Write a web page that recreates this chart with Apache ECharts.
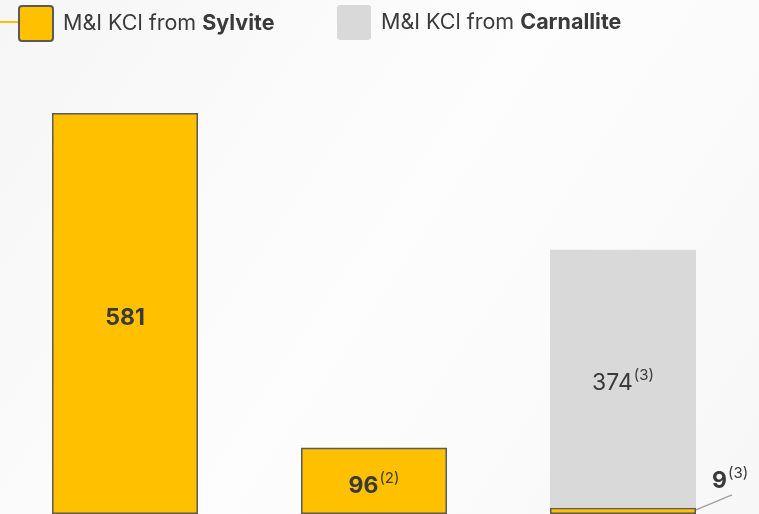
<!DOCTYPE html>
<html>
<head>
<meta charset="utf-8">
<script src="https://cdn.jsdelivr.net/npm/echarts@6/dist/echarts.min.js"></script>
<style>
  html, body { margin: 0; padding: 0; background: #fafafa; }
  #chart { width: 759px; height: 514px; }
</style>
</head>
<body>
<div id="chart"></div>
<script>
var categories = ['A', 'B', 'C'];
var sylvite = [581, 96, 9];
var carnallite = [null, null, 374];
var footnotes = ['', '(2)', '(3)'];
var carnNotes = ['', '', '(3)'];

var yellow = '#FFC000';
var grey = '#D9D9D9';
var ink = '#3a3a3a';
var font = 'Inter, "Open Sans", sans-serif';
var barW = 146;

var rich = {
  b: { fontSize: 23, fontWeight: 'bold', color: ink, fontFamily: font },
  n: { fontSize: 23, color: ink, fontFamily: font },
  s: { fontSize: 15, color: ink, fontFamily: font, verticalAlign: 'bottom', padding: [0, 0, 14, 1] }
};
var legendRich = {
  n: { fontSize: 21.5, color: ink, fontFamily: font, padding: [0, 0, 0, 5] },
  b: { fontSize: 21.5, fontWeight: 'bold', color: ink, fontFamily: font }
};

var chart = echarts.init(document.getElementById('chart'));
chart.setOption({
  animation: false,
  backgroundColor: {
    type: 'linear', x: 0, y: 0, x2: 1, y2: 1,
    colorStops: [{ offset: 0, color: '#f6f6f6' }, { offset: 0.5, color: '#fdfdfd' }, { offset: 1, color: '#f7f7f7' }]
  },
  legend: [{
    data: ['Sylvite'], left: 18, top: 5, padding: 0, itemWidth: 34, itemHeight: 35,
    icon: 'path://M3,0 H31 Q34,0 34,3 V32 Q34,35 31,35 H3 Q0,35 0,32 V3 Q0,0 3,0 Z',
    formatter: function() { return '{n|M&I KCl from }{b|Sylvite}'; },
    textStyle: { rich: legendRich }
  }, {
    data: ['Carnallite'], left: 337, top: 5, padding: 0, itemWidth: 34, itemHeight: 35,
    icon: 'path://M3,0 H31 Q34,0 34,3 V32 Q34,35 31,35 H3 Q0,35 0,32 V3 Q0,0 3,0 Z',
    formatter: function() { return '{n|M&I KCl from }{b|Carnallite}'; },
    textStyle: { rich: legendRich }
  }],
  grid: { left: 0.5, right: 11.5, top: 113, bottom: -1.5, containLabel: false },
  xAxis: {
    type: 'category', data: categories,
    axisLine: { show: false }, axisTick: { show: false }, axisLabel: { show: false }
  },
  yAxis: {
    type: 'value', min: 0, max: 581,
    axisLine: { show: false }, axisTick: { show: false }, axisLabel: { show: false }, splitLine: { show: false }
  },
  series: [{
    name: 'Sylvite', type: 'bar', stack: 'kcl', barWidth: barW,
    data: sylvite.map(function(v, i) {
      var item = { value: v };
      if (i === 2) item.label = { position: 'right' };
      return item;
    }),
    itemStyle: { color: yellow, borderColor: '#5a5a5a', borderWidth: 1.5 },
    label: {
      show: true, position: 'inside',
      formatter: function(p) {
        var note = footnotes[p.dataIndex];
        return '{b|' + p.value + '}' + (note ? '{s|' + note + '}' : '');
      },
      rich: rich
    },
    labelLayout: function(p) {
      if (p.dataIndex === 2) {
        return { x: p.rect.x + p.rect.width + 16, y: p.rect.y - 27, align: 'left', verticalAlign: 'middle' };
      }
      return { dy: 5 };
    }
  }, {
    name: 'Carnallite', type: 'bar', stack: 'kcl', barWidth: barW,
    data: carnallite,
    itemStyle: { color: grey },
    label: {
      show: true, position: 'inside', offset: [0, 4],
      formatter: function(p) {
        return '{n|' + p.value + '}{s|' + carnNotes[p.dataIndex] + '}';
      },
      rich: rich
    }
  }]
});

// leader line from the top-right corner of the small Sylvite bar to its label
var corner = chart.convertToPixel({ gridIndex: 0 }, [categories[2], sylvite[2]]);
var x0 = corner[0] + barW / 2, y0 = corner[1] + 2;
chart.setOption({
  graphic: [{
    type: 'line', shape: { x1: 0, y1: 22, x2: 18, y2: 22 },
    style: { stroke: yellow, lineWidth: 2 }
  }, {
    type: 'line', shape: { x1: x0, y1: y0, x2: x0 + 36, y2: y0 - 15 },
    style: { stroke: '#a0a0a0', lineWidth: 1.4 }, z: 10
  }]
});
</script>
</body>
</html>
